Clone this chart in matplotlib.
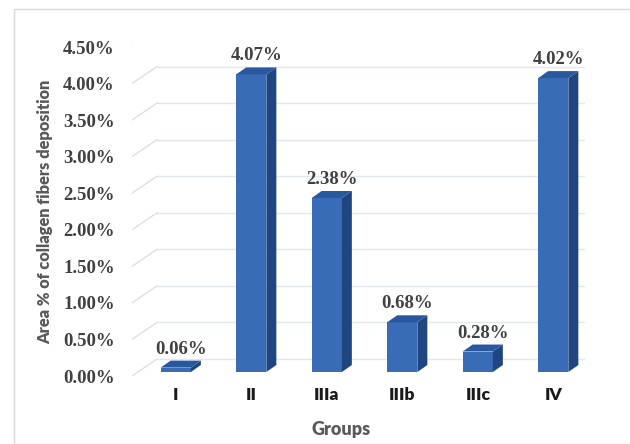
import matplotlib
matplotlib.use("Agg")
import matplotlib.pyplot as plt
from matplotlib.patches import Polygon, Rectangle
from matplotlib.lines import Line2D
import numpy as np

groups = ["I", "II", "IIIa", "IIIb", "IIIc", "IV"]
values = [0.06, 4.07, 2.38, 0.68, 0.28, 4.02]
yticks = [0.0, 0.5, 1.0, 1.5, 2.0, 2.5, 3.0, 3.5, 4.0, 4.5]
ylabel = "Area % of collagen fibers deposition"
xlabel = "Groups"

W, H, DPI = 630, 444, 100
fig = plt.figure(figsize=(W / DPI, H / DPI), dpi=DPI)
fig.patch.set_facecolor("white")

# chart frame
fig.patches.append(Rectangle((14 / W, 0), 1.0, (H - 9) / H, transform=fig.transFigure,
                             fill=False, edgecolor="#d9d9d9", linewidth=1.0))

# front plane of the plot area (pixels)
left_px, right_px = 132, 585
zero_px, top_px = 376, 47
ax = fig.add_axes([left_px / W, (H - zero_px) / H,
                   (right_px - left_px) / W, (zero_px - top_px) / H])
ax.set_xlim(-0.5, len(groups) - 0.5)
ax.set_ylim(0, 4.5)
ax.patch.set_alpha(0)
for s in ax.spines.values():
    s.set_visible(False)

# pixel -> data unit conversions
px_x = (len(groups)) / (right_px - left_px)
px_y = 4.5 / (zero_px - top_px)

# depth of the back wall
wall_dx, wall_dy = 25 * px_x, 17 * px_y
for v in yticks:
    ax.add_line(Line2D([-0.5 + wall_dx, len(groups) - 0.5 + wall_dx], [v + wall_dy, v + wall_dy],
                       color="#e1e7ef", linewidth=1.0, zorder=0))
    ax.add_line(Line2D([-0.5, -0.5 + wall_dx], [v, v + wall_dy],
                       color="#dcdcdc", linewidth=0.9, zorder=0))

# bars with a simple 3-D look
bar_w = 0.4
off_x, off_y = 6 * px_x, 4 * px_y
dep_x, dep_y = 10 * px_x, 7 * px_y
front_c, side_c, top_c = "#3a6bb6", "#1f4680", "#2a589f"
x = np.arange(len(groups))
ax.bar(x + off_x, values, width=bar_w, bottom=off_y, color=front_c,
       edgecolor="none", zorder=3)
for xi, v in zip(x, values):
    xr = xi + off_x + bar_w / 2
    xl = xi + off_x - bar_w / 2
    yb, yt = off_y, off_y + v
    ax.add_patch(Polygon([(xr, yb), (xr, yt), (xr + dep_x, yt + dep_y), (xr + dep_x, yb + dep_y)],
                         closed=True, facecolor=side_c, edgecolor="none", zorder=3))
    ax.add_patch(Polygon([(xl, yt), (xr, yt), (xr + dep_x, yt + dep_y), (xl + dep_x, yt + dep_y)],
                         closed=True, facecolor=top_c, edgecolor="none", zorder=3))
    ax.text(xi + off_x + dep_x / 2, yt + dep_y + 3 * px_y, f"{v:.2f}%",
            ha="center", va="bottom", fontsize=13.5, fontweight="bold",
            family="Liberation Serif", color="#404040", zorder=4)

# axis labels
ax.set_yticks(yticks)
ax.set_yticklabels([f"{v:.2f}%" for v in yticks], family="Liberation Serif",
                   fontweight="bold", fontsize=13.5, color="#404040")
ax.tick_params(axis="y", length=0, pad=12.5)
ax.set_xticks(x + off_x)
ax.set_xticklabels(groups, family="Lato", fontweight="heavy", fontsize=12.5, color="#1a1a1a")
ax.tick_params(axis="x", length=0, pad=8)

fig.text(341 / W, 1 - 429 / H, xlabel, ha="center", va="center", family="Lato",
         fontweight="heavy", fontsize=13, color="#595959")
fig.text(45 / W, 1 - 212 / H, ylabel, ha="center", va="center", rotation=90,
         family="Lato", fontweight="heavy", fontsize=11.8, color="#595959")

fig.savefig("out.png", dpi=DPI)
